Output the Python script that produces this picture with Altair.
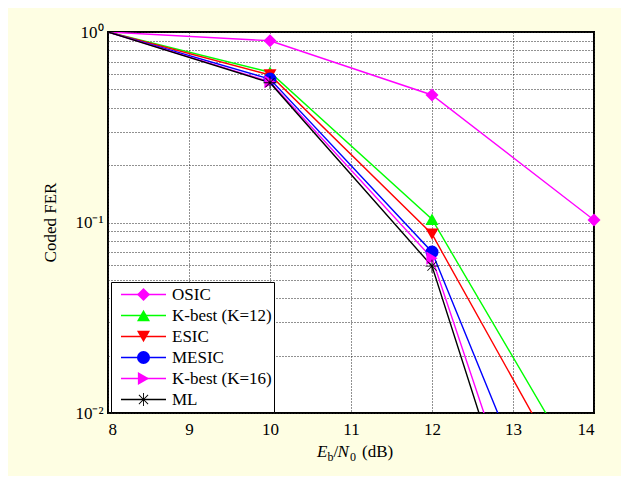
import altair as alt
import pandas as pd

# ---- data ----
snr_db = [8, 10, 12, 14]
series_names = ["OSIC", "K-best (K=12)", "ESIC", "MESIC", "K-best (K=16)", "ML"]
fer_osic = [1.0, 0.90, 0.467, 0.103]
fer_kbest12 = [1.0, 0.615, 0.104, 0.0037]
fer_esic = [1.0, 0.595, 0.087, 0.0026]
fer_mesic = [1.0, 0.566, 0.070, 0.00058]
fer_kbest16 = [1.0, 0.548, 0.065, 0.00019]
fer_ml = [1.0, 0.542, 0.059, 0.00013]

series_colors = ["#FF00FF", "#00FF00", "#FF0000", "#0000FF", "#FF00FF", "#000000"]
asterisk = ("M-1,-0.07L1,-0.07L1,0.07L-1,0.07Z"
            "M-0.07,-1L0.07,-1L0.07,1L-0.07,1Z"
            "M-0.66,-0.75L0.75,0.66L0.66,0.75L-0.75,-0.66Z"
            "M0.66,-0.75L0.75,-0.66L-0.66,0.75L-0.75,0.66Z")
series_shapes = ["diamond", "triangle-up", "triangle-down", "circle", "triangle-right", asterisk]

y_grid_values = [0.01, 0.02, 0.03, 0.04, 0.05, 0.06, 0.07, 0.08, 0.09,
                 0.1, 0.2, 0.3, 0.4, 0.5, 0.6, 0.7, 0.8, 0.9, 1.0]
x_ticks = [8, 9, 10, 11, 12, 13, 14]

# marker layer uses its own key (name + trailing space) so its legend stays separate
marker_keys = [n + " " for n in series_names]

all_fer = [fer_osic, fer_kbest12, fer_esic, fer_mesic, fer_kbest16, fer_ml]
rows = []
for name, key, vals in zip(series_names, marker_keys, all_fer):
    for x, v in zip(snr_db, vals):
        rows.append({"snr": x, "fer": v, "series": name, "series_m": key})
df = pd.DataFrame(rows)

FONT = "Liberation Serif"

x_enc = alt.X("snr:Q", scale=alt.Scale(domain=[8, 14], nice=False),
              axis=alt.Axis(values=x_ticks, title=None, grid=True, gridDash=[1, 2],
                            gridColor="#222", gridWidth=1, ticks=False, domain=False,
                            labelFont=FONT, labelFontSize=17, labelPadding=8,
                            labelColor="black", format="d"))
y_enc = alt.Y("fer:Q", scale=alt.Scale(type="log", domain=[0.01, 1], nice=False),
              axis=alt.Axis(values=y_grid_values, title="Coded FER", grid=True,
                            gridDash=[1, 2], gridColor="#222", gridWidth=1,
                            ticks=False, domain=False, labelFont=FONT,
                            labelFontSize=17, labelPadding=5, labelColor="black",
                            labelExpr="datum.value == 1 ? '10\u2070' : (datum.value == 0.1 ? '10\u207b\u00b9' : (datum.value == 0.01 ? '10\u207b\u00b2' : ''))",
                            titleFont=FONT, titleFontSize=17, titleFontWeight="normal",
                            titleColor="black", titleX=-58, titleY=190,
                            titleAlign="center", titleBaseline="middle"))

line_legend = alt.Legend(title=None, orient="none", legendX=3, legendY=250,
                         symbolType="stroke", symbolSize=2025, symbolStrokeWidth=1.5,
                         clipHeight=21, rowPadding=0, padding=2, symbolOffset=7,
                         labelOffset=5, labelFont=FONT, labelFontSize=17,
                         labelColor="black", labelLimit=300,
                         fillColor="white", strokeColor="black")
marker_legend = alt.Legend(title=None, orient="none", legendX=3, legendY=250,
                           symbolSize=170, clipHeight=21, rowPadding=0, padding=2,
                           symbolOffset=23, labelExpr="''", labelFontSize=1)

lines = alt.Chart(df).mark_line(clip=True, strokeWidth=1.4).encode(
    x=x_enc, y=y_enc,
    color=alt.Color("series:N", scale=alt.Scale(domain=series_names, range=series_colors),
                    sort=series_names, legend=line_legend),
    detail="series:N",
    order=alt.Order("snr:Q"),
)

points = alt.Chart(df).transform_filter(
    "datum.fer >= 0.01 && datum.snr > 8"
).mark_point(filled=True, size=170, opacity=1).encode(
    x=x_enc, y=y_enc,
    fill=alt.Fill("series_m:N", scale=alt.Scale(domain=marker_keys, range=series_colors),
                  sort=marker_keys, legend=marker_legend),
    shape=alt.Shape("series_m:N", scale=alt.Scale(domain=marker_keys, range=series_shapes),
                    sort=marker_keys, legend=marker_legend),
)

one = pd.DataFrame({"k": [0]})
def piece(txt, x, y, size=17, italic=False):
    return alt.Chart(one).mark_text(
        text=txt, align="left", baseline="alphabetic", font=FONT, fontSize=size,
        fontStyle="italic" if italic else "normal", color="black"
    ).encode(x=alt.value(x), y=alt.value(y))

title_parts = [
    piece("E", 209, 425, italic=True),
    piece("b", 219.5, 429, size=12),
    piece("/", 225.5, 425),
    piece("N", 229.5, 425, italic=True),
    piece("0", 242, 429, size=12),
    piece("(dB)", 254, 425),
]

chart = alt.layer(lines, points, *title_parts).properties(
    width=486, height=381,
    autosize=alt.AutoSizeParams(type="none"),
    padding={"left": 100, "top": 24, "right": 27, "bottom": 63},
    background="#FEFEE3",
).configure_view(stroke="black", strokeWidth=2, fill="white")

chart.save("out.html", embed_options={"renderer": "svg", "actions": False})
